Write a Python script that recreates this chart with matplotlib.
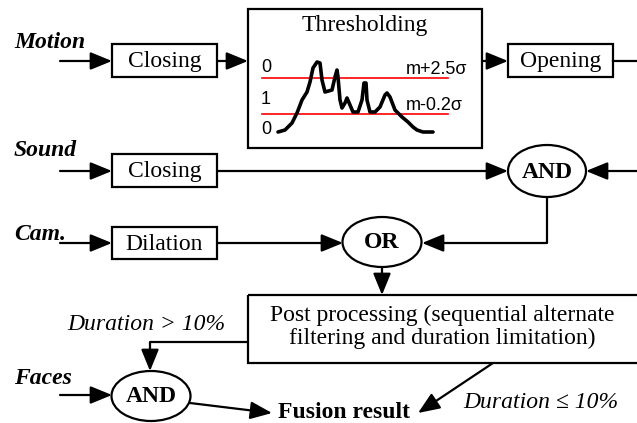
import matplotlib
matplotlib.use("Agg")
import matplotlib.pyplot as plt
from matplotlib.patches import Rectangle, Ellipse

# input signals and their labels
inputs = ["Motion", "Sound", "Cam.", "Faces"]
input_y = [43, 150, 235, 378]

# processing blocks: label, x0, y0, x1, y1 (pixel frame)
box_labels = ["Closing", "Opening", "Closing", "Dilation"]
box_x0 = [112, 508, 112, 112]
box_y0 = [44, 44, 154, 227]
box_x1 = [217, 613, 217, 217]
box_y1 = [77, 77, 187, 259]

# logic gates
gate_labels = ["AND", "OR", "AND"]
gate_x = [547, 382, 151]
gate_y = [171, 242, 396]
gate_w = [78, 79, 79]
gate_h = [52, 50, 50]

# thresholding sketch curve
curve_x = [278, 285, 292, 297, 302, 307, 310, 313, 317, 320, 322, 325, 332, 335, 337,
           338, 340, 342, 345, 347, 350, 353, 358, 362, 364, 366, 367, 370, 375, 380,
           385, 387, 390, 395, 402, 408, 413, 417, 423, 433]
curve_y = [132, 130, 123, 113, 100, 92, 82, 68, 62, 63, 80, 92, 90, 77, 70,
           77, 100, 108, 103, 98, 105, 112, 112, 100, 83, 83, 100, 112, 112, 107,
           95, 93, 97, 110, 117, 122, 127, 130, 132, 132]
thresh_y = [78, 114]
thresh_labels = ["m+2.5\u03c3", "m-0.2\u03c3"]
level_labels = ["0", "1", "0"]
level_y = [68, 99, 130]

serif = "Liberation Serif"
sans = "Liberation Sans"
fs = 17
lw = 1.6

fig = plt.figure(figsize=(6.37, 4.23), dpi=100)
ax = fig.add_axes([0, 0, 1, 1])
ax.set_xlim(0, 637)
ax.set_ylim(423, 0)
ax.axis("off")


def arrow(pts, head=True):
    # polyline with a filled arrow head at the last point
    xs = [p[0] for p in pts]
    ys = [p[1] for p in pts]
    if len(pts) > 2:
        ax.plot(xs[:-1], ys[:-1], color="black", lw=lw, solid_capstyle="butt")
    if head:
        ax.annotate("", xy=pts[-1], xytext=pts[-2],
                    arrowprops=dict(arrowstyle="-|>,head_length=1.1,head_width=0.45",
                                    mutation_scale=12, color="black", lw=lw,
                                    shrinkA=0, shrinkB=0))
    else:
        ax.plot(xs[-2:], ys[-2:], color="black", lw=lw)


for name, y in zip(inputs, input_y):
    ax.text(14, y, name, fontsize=fs, fontfamily=serif, fontweight="bold",
            fontstyle="italic", ha="left", va="center")

for lab, x0, y0, x1, y1 in zip(box_labels, box_x0, box_y0, box_x1, box_y1):
    ax.add_patch(Rectangle((x0, y0), x1 - x0, y1 - y0, fill=False, ec="black", lw=lw))
    ax.text((x0 + x1) / 2, (y0 + y1) / 2 + 1, lab, fontsize=fs, fontfamily=serif,
            ha="center", va="center")

for lab, x, y, w, h in zip(gate_labels, gate_x, gate_y, gate_w, gate_h):
    ax.add_patch(Ellipse((x, y), w, h, fill=False, ec="black", lw=lw))
    ax.text(x, y + 1, lab, fontsize=fs, fontfamily=serif, fontweight="bold",
            ha="center", va="center")

# thresholding block
ax.add_patch(Rectangle((248, 9), 234, 139, fill=False, ec="black", lw=lw))
ax.text(365, 25, "Thresholding", fontsize=fs, fontfamily=serif, ha="center", va="center")
for y, lab in zip(thresh_y, thresh_labels):
    ax.plot([262, 448], [y, y], color="red", lw=1.2)
    ax.text(406, y - 9, lab, fontsize=13, fontfamily=sans, ha="left", va="center")
for lab, y in zip(level_labels, level_y):
    ax.text(261, y, lab, fontsize=13, fontfamily=sans, ha="left", va="center")
ax.plot(curve_x, curve_y, color="black", lw=2.6, solid_capstyle="round",
        solid_joinstyle="round")

# post processing block (runs off the right edge)
ax.add_patch(Rectangle((248, 295), 420, 68, fill=False, ec="black", lw=lw))
ax.text(442, 315, "Post processing (sequential alternate", fontsize=fs, fontfamily=serif,
        ha="center", va="center")
ax.text(442, 338, "filtering and duration limitation)", fontsize=fs, fontfamily=serif,
        ha="center", va="center")

# connections
arrow([(60, 61), (112, 61)])
arrow([(217, 61), (248, 61)])
arrow([(482, 61), (508, 61)])
arrow([(613, 61), (640, 61)], head=False)
arrow([(60, 171), (112, 171)])
arrow([(217, 171), (508, 171)])
arrow([(640, 171), (586, 171)])
arrow([(547, 197), (547, 243), (422, 243)])
arrow([(60, 243), (112, 243)])
arrow([(217, 243), (343, 243)])
arrow([(382, 267), (382, 295)])
arrow([(248, 342), (150, 342), (150, 371)])
arrow([(60, 395), (112, 395)])
arrow([(190, 403), (272, 413)])
arrow([(493, 363), (418, 413)])

ax.text(67, 325, "Duration > 10%", fontsize=fs, fontfamily=serif, fontstyle="italic",
        ha="left", va="center")
ax.text(463, 402, "Duration \u2264 10%", fontsize=fs, fontfamily=serif, fontstyle="italic",
        ha="left", va="center")
ax.text(278, 412, "Fusion result", fontsize=fs, fontfamily=serif, fontweight="bold",
        ha="left", va="center")

fig.savefig("out.png", dpi=100)
